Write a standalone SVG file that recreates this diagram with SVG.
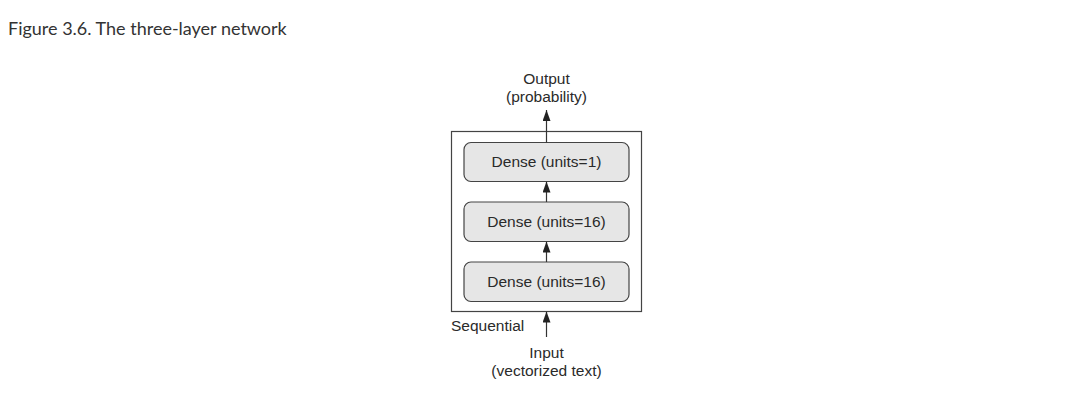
<svg xmlns="http://www.w3.org/2000/svg" width="1089" height="403" viewBox="0 0 1089 403">
<style>
.t{font-family:"Liberation Sans",Arial,sans-serif;font-size:15.5px;fill:#2a2a2a;text-anchor:middle}
.box{fill:#e6e6e6;stroke:#444;stroke-width:1.2}
.ln{stroke:#333;stroke-width:1.2;fill:none;marker-end:url(#ah)}
</style>
<defs>
<marker id="ah" viewBox="0 0 11 8" refX="11" refY="4" markerWidth="11" markerHeight="8" markerUnits="userSpaceOnUse" orient="auto">
<path d="M0,0 L11,4 L0,8 z" fill="#222"/>
</marker>
</defs>
<rect width="1089" height="403" fill="#fff"/>
<text x="8" y="35" style="font-family:Lato,'Liberation Sans',sans-serif;font-size:18px;fill:#333">Figure 3.6. The three-layer network</text>
<g id="sequential">
<rect x="451.5" y="131.5" width="190" height="180" fill="none" stroke="#444" stroke-width="1.2"/>
<text x="451" y="331" class="t" style="text-anchor:start">Sequential</text>
</g>
<g id="dense1">
<rect class="box" x="464" y="142.5" width="165" height="39" rx="7"/>
<text class="t" x="546.5" y="167">Dense (units=1)</text>
</g>
<g id="dense2">
<rect class="box" x="464" y="202" width="165" height="39.5" rx="7"/>
<text class="t" x="546.5" y="227">Dense (units=16)</text>
</g>
<g id="dense3">
<rect class="box" x="464" y="262" width="165" height="39.5" rx="7"/>
<text class="t" x="546.5" y="287">Dense (units=16)</text>
</g>
<g id="output">
<text class="t" x="546.5" y="84">Output</text>
<text class="t" x="546.5" y="102">(probability)</text>
</g>
<g id="input">
<text class="t" x="546.5" y="358">Input</text>
<text class="t" x="546.5" y="376">(vectorized text)</text>
</g>
<g id="connectors">
<line class="ln" x1="546.5" y1="337" x2="546.5" y2="311.5"/>
<line class="ln" x1="546.5" y1="262" x2="546.5" y2="241.5"/>
<line class="ln" x1="546.5" y1="202" x2="546.5" y2="181.5"/>
<line class="ln" x1="546.5" y1="142.5" x2="546.5" y2="110"/>
</g>
</svg>
